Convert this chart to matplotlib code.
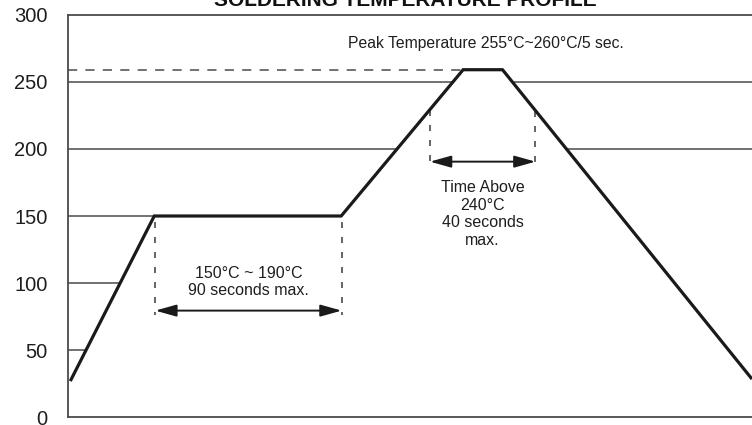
import numpy as np
import matplotlib
matplotlib.use("Agg")
import matplotlib.pyplot as plt

plt.rcParams['font.family'] = ['Liberation Sans', 'DejaVu Sans']

# ---- data ----
title = "SOLDERING TEMPERATURE PROFILE"
profile_time = [1, 43, 136.5, 197.5, 217.2, 342]      # seconds (schematic)
profile_temp = [27, 150, 150, 259, 259, 28.5]         # °C
yticks = [0, 50, 100, 150, 200, 250, 300]
grid_full = [200, 250]
grid_left = [50, 100, 150]
peak_temp = 259
soak_marks = [43.5, 136.7]
soak_arrow_y = 79.5
soak_label = "150°C ~ 190°C\n90 seconds max."
above_marks = [180.9, 233.7]
above_arrow_y = 190.5
above_label = "Time Above\n240°C\n40 seconds\nmax."
peak_label = "Peak Temperature 255°C~260°C/5 sec."

DPI = 100
fig = plt.figure(figsize=(7.52, 4.25), dpi=DPI)
ax = fig.add_axes([68.3 / 752, 1 - 417.3 / 425, 1 - 68.3 / 752, (417.3 - 14.7) / 425])
ax.set_xlim(0, 342)
ax.set_ylim(0, 300)

gray = '#4a4a4a'
txt = '#1e1e1e'

# grid lines
x_peak_start = profile_time[3]
ax.hlines(grid_full, 0, 342, color=gray, lw=1.1, zorder=1)
ax.hlines(grid_left, 0, x_peak_start, color=gray, lw=1.1, zorder=1)

# white fill under the profile hides grid lines
ax.fill_between(profile_time, 0, profile_temp, color='white', zorder=2, lw=0)

# profile
ax.plot(profile_time, profile_temp, color='#1a1a1a', lw=2.3, zorder=4,
        solid_capstyle='butt', solid_joinstyle='miter')

# dashed peak line
ax.plot([0, x_peak_start], [peak_temp, peak_temp], color=gray, lw=1.1,
        linestyle=(0, (6.0, 5.4)), zorder=3)

dash_v = (0, (3.6, 5.4))

# soak markers
for xm in soak_marks:
    ax.plot([xm, xm], [profile_temp[1] - 4.5, soak_arrow_y - 3.5], color=gray, lw=1.2,
            linestyle=dash_v, zorder=3)
ax.annotate('', xy=(soak_marks[1], soak_arrow_y), xytext=(soak_marks[0], soak_arrow_y),
            arrowprops=dict(arrowstyle='<|-|>,head_length=0.64,head_width=0.18',
                            color='#1a1a1a', lw=1.4, shrinkA=0, shrinkB=0,
                            mutation_scale=20), zorder=5)
ax.text(np.mean(soak_marks), 101, soak_label, ha='center', va='center',
        fontsize=11.5, color=txt, linespacing=1.2, zorder=6)

# time above markers
for xm in above_marks:
    ytop = np.interp(xm, profile_time, profile_temp)
    ax.plot([xm, xm], [ytop, above_arrow_y - 3.5], color=gray, lw=1.2,
            linestyle=dash_v, zorder=3)
ax.annotate('', xy=(above_marks[1], above_arrow_y), xytext=(above_marks[0], above_arrow_y),
            arrowprops=dict(arrowstyle='<|-|>,head_length=0.64,head_width=0.18',
                            color='#1a1a1a', lw=1.4, shrinkA=0, shrinkB=0,
                            mutation_scale=20), zorder=5)
ax.text(207.2, 151.5, above_label, ha='center', va='center',
        fontsize=11.5, color=txt, linespacing=1.2, zorder=6)

# peak label
ax.text(140, 275, peak_label, ha='left', va='baseline', fontsize=11.3, color=txt, zorder=6)

# axes styling
ax.set_yticks(yticks)
ax.set_yticklabels([str(v) for v in yticks])
ax.set_xticks([])
ax.tick_params(axis='y', length=0, pad=15, labelsize=14.5, labelcolor=txt)
for s in ['left', 'top', 'bottom']:
    ax.spines[s].set_color(gray)
    ax.spines[s].set_linewidth(1.3)
ax.spines['right'].set_visible(False)

# title (partially cut at top, as in reference)
fig.text(405 / 752, 1 - 5.7 / 425, title, ha='center', va='baseline',
         fontsize=15, fontweight='bold', color='#111111')

fig.savefig('out.png', dpi=DPI)
